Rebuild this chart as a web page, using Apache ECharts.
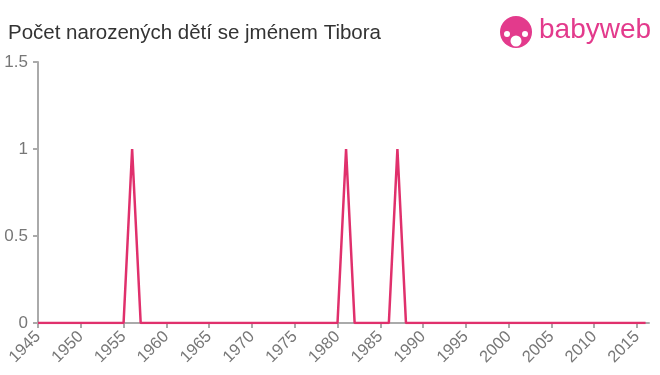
<!DOCTYPE html>
<html><head><meta charset="utf-8">
<script src="https://cdn.jsdelivr.net/npm/echarts@6/dist/echarts.min.js"></script>
<style>html,body{margin:0;padding:0;background:#fff}#c{width:660px;height:375px}</style>
</head><body><div id="c"></div>
<script>
const title = "Počet narozených dětí se jménem Tibora";
const years = [1945,1946,1947,1948,1949,1950,1951,1952,1953,1954,1955,1956,1957,1958,1959,1960,1961,1962,1963,1964,1965,1966,1967,1968,1969,1970,1971,1972,1973,1974,1975,1976,1977,1978,1979,1980,1981,1982,1983,1984,1985,1986,1987,1988,1989,1990,1991,1992,1993,1994,1995,1996,1997,1998,1999,2000,2001,2002,2003,2004,2005,2006,2007,2008,2009,2010,2011,2012,2013,2014,2015,2016];
const counts = [0,0,0,0,0,0,0,0,0,0,0,1,0,0,0,0,0,0,0,0,0,0,0,0,0,0,0,0,0,0,0,0,0,0,0,0,1,0,0,0,0,0,1,0,0,0,0,0,0,0,0,0,0,0,0,0,0,0,0,0,0,0,0,0,0,0,0,0,0,0,0,0];
const yTicks = [0, 0.5, 1, 1.5];

const font = 'Arial, "Liberation Sans", sans-serif';
const chart = echarts.init(document.getElementById('c'), null, {renderer:'canvas'});
chart.setOption({
  animation:false,
  backgroundColor:'#fff',
  title:{text:title,left:3,top:18,textStyle:{fontFamily:font,fontSize:20.5,fontWeight:'normal',color:'#333'}},
  grid:{left:38,right:11,top:62,bottom:52,containLabel:false},
  xAxis:{type:'value',min:1945,max:2016.4,interval:5,
    axisLine:{lineStyle:{color:'#aaa',width:2}},
    axisTick:{show:true,length:5,lineStyle:{color:'#aaa',width:2}},
    axisLabel:{rotate:45,color:'#777',fontSize:16.5,fontFamily:font,margin:11,showMaxLabel:false,
      formatter:v=>String(v)},
    splitLine:{show:false}},
  yAxis:{type:'value',min:yTicks[0],max:yTicks[yTicks.length-1],interval:0.5,
    axisLine:{show:true,lineStyle:{color:'#aaa',width:2}},
    axisTick:{show:true,length:5,lineStyle:{color:'#aaa',width:2}},
    axisLabel:{color:'#777',fontSize:17,fontFamily:font,margin:10},
    splitLine:{show:false}},
  series:[{type:'line',data:years.map((y,i)=>[y,counts[i]]),showSymbol:false,symbol:'none',
    lineStyle:{color:'#e0306c',width:2.5},z:5}],
  graphic:[
    {type:'circle',shape:{cx:516,cy:32,r:16},style:{fill:'#e33a8c'}},
    {type:'circle',shape:{cx:516,cy:41,r:5.5},style:{fill:'#fff'}},
    {type:'circle',shape:{cx:507,cy:34,r:3},style:{fill:'#fff'}},
    {type:'circle',shape:{cx:525,cy:34,r:3},style:{fill:'#fff'}},
    {type:'text',left:539,top:16,style:{text:'babyweb',fill:'#e33a8c',font:'28px '+font}}
  ]
});
</script></body></html>
